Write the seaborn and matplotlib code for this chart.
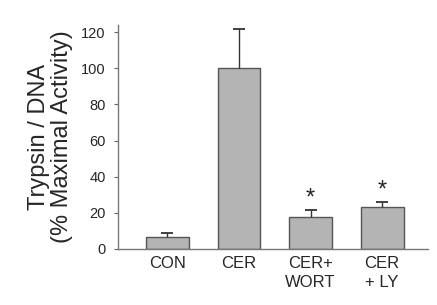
import matplotlib
matplotlib.use("Agg")
import matplotlib.pyplot as plt
import seaborn as sns
import pandas as pd

categories = ["CON", "CER", "CER+\nWORT", "CER\n+ LY"]
values = [6.5, 100, 17.5, 23]
errors = [2.5, 22, 4, 3]
marks = ["", "", "*", "*"]

sns.set_style("white")
plt.rcParams['font.family'] = ['Liberation Sans', 'DejaVu Sans']

df = pd.DataFrame({"cat": categories, "val": values})

fig = plt.figure(figsize=(4.37, 3.05), dpi=100)
ax = fig.add_axes([118/437, 1-249/305, 310/437, 224/305])

sns.barplot(data=df, x="cat", y="val", ax=ax, color="#b4b4b4", width=0.6,
            edgecolor="#555555", linewidth=1.0, saturation=1, errorbar=None)

xs = list(range(len(categories)))
eb = ax.errorbar(xs, values, yerr=[[0]*len(errors), errors], fmt="none",
                 ecolor="#333333", elinewidth=1.0, capsize=4, capthick=1.3)
caplines = eb[1]
if len(caplines) == 2:
    caplines[0].set_visible(False)
for x, v, e, m in zip(xs, values, errors, marks):
    if m:
        ax.text(x, v + e + 0.3, m, ha="center", va="bottom", fontsize=17, color="#222222")

ax.set_xlim(-0.69, 3.64)
ax.set_ylim(0, 124)
ax.set_yticks([0, 20, 40, 60, 80, 100, 120])
ax.tick_params(axis="y", labelsize=10.5, length=3, direction="out", left=True, color="#666666", pad=6)
ax.tick_params(axis="x", labelsize=12, length=0, pad=5)
for lab in ax.get_xticklabels():
    lab.set_linespacing(1.3)
ax.set_xlabel("")
ax.set_ylabel("Trypsin / DNA\n(% Maximal Activity)", fontsize=17, labelpad=6, linespacing=1.05)
for s in ["top", "right"]:
    ax.spines[s].set_visible(False)
for s in ["left", "bottom"]:
    ax.spines[s].set_color("#777777")
    ax.spines[s].set_linewidth(1.0)

fig.savefig("out.png", dpi=100)
